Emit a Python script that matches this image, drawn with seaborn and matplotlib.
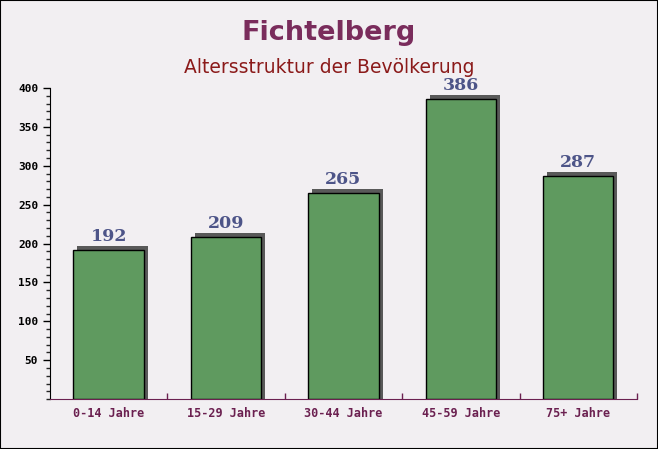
import matplotlib
matplotlib.use('Agg')
import matplotlib.pyplot as plt
from matplotlib.patches import Rectangle
from matplotlib.transforms import ScaledTranslation
from matplotlib.ticker import MultipleLocator, FixedLocator
import pandas as pd
import seaborn as sns

# Daten
altersgruppen = ['0-14 Jahre', '15-29 Jahre', '30-44 Jahre', '45-59 Jahre', '75+ Jahre']
einwohner = [192, 209, 265, 386, 287]

data = pd.DataFrame({'gruppe': altersgruppen, 'anzahl': einwohner})

sns.set_style('white')

fig = plt.figure(figsize=(6.58, 4.49), dpi=100, facecolor='#f2eff2')
ax = fig.add_axes([0.076, 0.111, 0.892, 0.693])
ax.set_facecolor('none')

sns.barplot(x='gruppe', y='anzahl', data=data, ax=ax, width=0.6,
            color='#5f9a5f', edgecolor='black', linewidth=1.0, saturation=1)

# Schatten fuer 3D-Effekt
bars = list(ax.patches)
offset = ax.transData + ScaledTranslation(0.04, 0.04, fig.dpi_scale_trans)
for p in bars:
    p.set_zorder(3)
    sh = Rectangle((p.get_x(), p.get_y() - 20), p.get_width(), p.get_height() + 20,
                   transform=offset, facecolor='#595959', edgecolor='none', zorder=2)
    ax.add_patch(sh)

# Werte ueber den Balken
for i, v in enumerate(einwohner):
    ax.text(i, v + 6, str(v), ha='center', va='bottom', fontsize=12.5,
            fontweight='bold', family='DejaVu Serif', color='#4d5488')

ax.set_xlim(-0.5, 4.5)
ax.set_ylim(0, 400)
ax.yaxis.set_minor_locator(MultipleLocator(10))
ax.set_yticks([50, 100, 150, 200, 250, 300, 350, 400])
ax.xaxis.set_minor_locator(FixedLocator([0.5, 1.5, 2.5, 3.5, 4.5]))

ax.tick_params(axis='y', which='major', direction='out', length=5, width=1,
               labelsize=8, colors='black', left=True)
ax.tick_params(axis='y', which='minor', direction='out', length=3, width=1, left=True)
ax.tick_params(axis='x', which='major', length=0, labelsize=8.5, labelcolor='#6b2050', pad=6)
ax.tick_params(axis='x', which='minor', direction='in', length=4, width=1,
               color='#6b2050', bottom=True)

for lab in ax.get_yticklabels() + ax.get_xticklabels():
    lab.set_family('DejaVu Sans Mono')
    lab.set_fontweight('bold')

for s in ['top', 'right']:
    ax.spines[s].set_visible(False)
ax.spines['left'].set_color('black')
ax.spines['bottom'].set_color('#6b2050')
ax.spines['bottom'].set_zorder(4)

ax.set_xlabel('')
ax.set_ylabel('')

fig.text(0.5, 0.927, 'Fichtelberg', ha='center', va='center', fontsize=19.5,
         fontweight='bold', color='#7a2c5c')
fig.text(0.5, 0.849, 'Altersstruktur der Bevölkerung', ha='center', va='center',
         fontsize=13.5, color='#8b1a1a')

# Rahmen
fig.patches.append(Rectangle((0, 0), 1, 1, transform=fig.transFigure, fill=False,
                             edgecolor='black', linewidth=1.5))

fig.savefig('out.png', dpi=100, facecolor=fig.get_facecolor())
